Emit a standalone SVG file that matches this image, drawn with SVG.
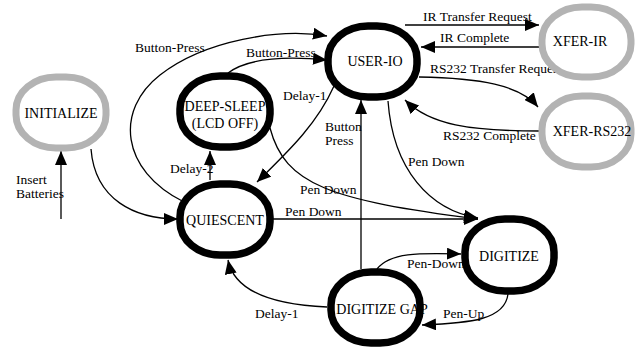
<svg xmlns="http://www.w3.org/2000/svg" width="637" height="349" viewBox="0 0 637 349">
<style>
.ring{fill:#fff;stroke:#000;stroke-width:7.5}
.gray{stroke:#b3b3b3;stroke-width:7}
.nl{font-size:14px;text-anchor:middle;fill:#000}
.el{font-size:13.5px;fill:#000}
.e{fill:none;stroke:#000;stroke-width:1.3;marker-end:url(#ah)}
</style>
<defs>
<marker id="ah" markerUnits="userSpaceOnUse" markerWidth="14" markerHeight="12" refX="14" refY="6" orient="auto">
<path d="M0,0 L14,6 L0,12 z" fill="#000"/>
</marker>
</defs>
<rect width="637" height="349" fill="#fff"/>
<g id="connectors">
<path class="e" d="M61,219 L61,151"/>
<path class="e" d="M91,149 C95,200 135,219 178,219"/>
<path class="e" d="M184,202 C120,170 115,110 160,75 C205,40 280,28 327,36"/>
<path class="e" d="M228,73 C248,58 285,56 327,60"/>
<path class="e" d="M334,86 C318,122 292,148 257,182"/>
<path class="e" d="M210,180 L210,151"/>
<path class="e" d="M270,128 C285,185 330,200 478,219"/>
<path class="e" d="M273,219 L478,219"/>
<path class="e" d="M361,269 L361,100"/>
<path class="e" d="M388,101 C393,170 430,210 478,218"/>
<path class="e" d="M405,25 L539,25"/>
<path class="e" d="M539,47 L421,47"/>
<path class="e" d="M419,77 C480,78 520,85 538,107"/>
<path class="e" d="M539,131 C470,131 430,125 405,100"/>
<path class="e" d="M377,269 C390,252 420,253 461,254"/>
<path class="e" d="M508,294 C505,320 470,323 422,325"/>
<path class="e" d="M327,307 C280,305 235,295 228,260"/>
</g>
<g id="edge-labels" font-family="'Liberation Serif', 'Times New Roman', 'DejaVu Serif', serif">
<text class="el" x="16" y="184">Insert</text>
<text class="el" x="16" y="198">Batteries</text>
<text class="el" x="135" y="52">Button-Press</text>
<text class="el" x="246" y="57">Button-Press</text>
<text class="el" x="283" y="100">Delay-1</text>
<text class="el" x="170" y="173">Delay-2</text>
<text class="el" x="300" y="194">Pen Down</text>
<text class="el" x="285" y="216">Pen Down</text>
<text class="el" x="325" y="131">Button</text>
<text class="el" x="325" y="145">Press</text>
<text class="el" x="408" y="166">Pen Down</text>
<text class="el" x="423" y="21">IR Transfer Request</text>
<text class="el" x="440" y="42">IR Complete</text>
<text class="el" x="430" y="73">RS232 Transfer Request</text>
<text class="el" x="443" y="140">RS232 Complete</text>
<text class="el" x="407" y="268">Pen-Down</text>
<text class="el" x="443" y="318">Pen-Up</text>
<text class="el" x="255" y="318">Delay-1</text>
</g>
<g font-family="'Liberation Serif', 'Times New Roman', 'DejaVu Serif', serif">
<g id="initialize"><rect class="ring gray" x="16" y="77" width="90" height="71" rx="40" ry="33"/><text class="nl" x="61" y="118">INITIALIZE</text></g>
<g id="deep-sleep"><rect class="ring" x="180" y="76" width="90" height="71" rx="40" ry="33"/><text class="nl" x="225" y="111">DEEP-SLEEP</text><text class="nl" x="225" y="128">(LCD OFF)</text></g>
<g id="quiescent"><rect class="ring" x="180" y="184" width="90" height="71" rx="40" ry="33"/><text class="nl" x="225" y="225">QUIESCENT</text></g>
<g id="user-io"><rect class="ring" x="328" y="26" width="89" height="71" rx="40" ry="33"/><text class="nl" x="375" y="66">USER-IO</text></g>
<g id="xfer-ir"><rect class="ring gray" x="542" y="7" width="89" height="70" rx="40" ry="33"/><text class="nl" x="580" y="46">XFER-IR</text></g>
<g id="xfer-rs232"><rect class="ring gray" x="542" y="96" width="89" height="71" rx="40" ry="33"/><text class="nl" x="592" y="136">XFER-RS232</text></g>
<g id="digitize"><rect class="ring" x="465" y="219" width="89" height="72" rx="40" ry="33"/><text class="nl" x="509" y="261">DIGITIZE</text></g>
<g id="digitize-gap"><rect class="ring" x="331" y="272" width="89" height="71" rx="40" ry="33"/><text class="nl" x="382" y="314">DIGITIZE GAP</text></g>
</g>
</svg>
